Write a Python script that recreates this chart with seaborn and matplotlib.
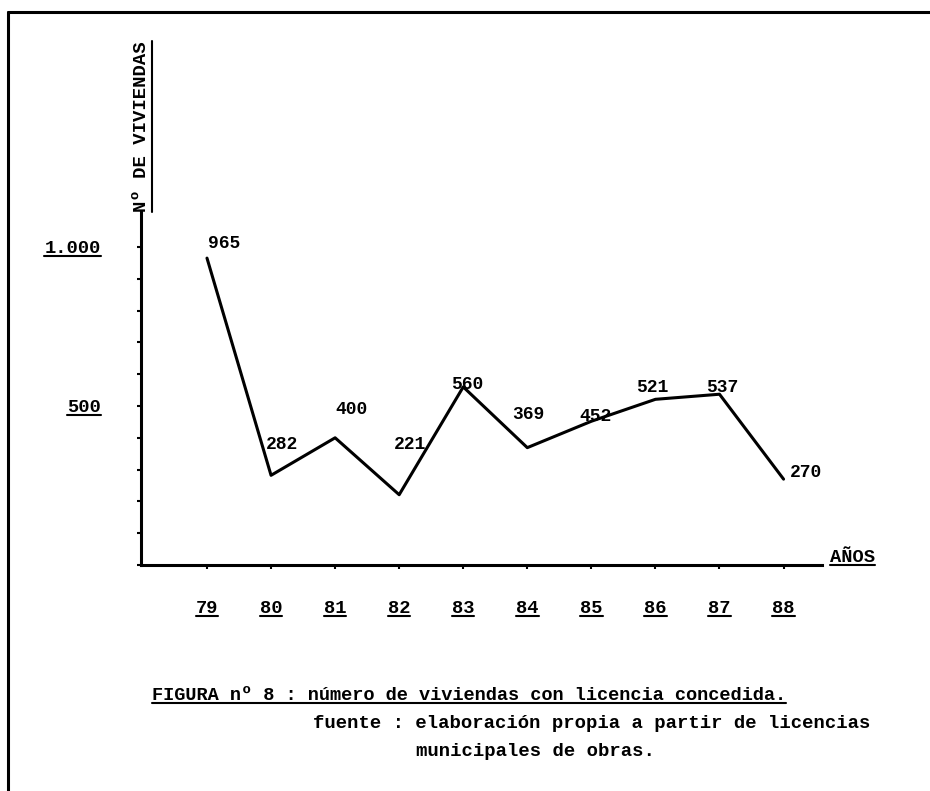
import seaborn as sns
import numpy as np
import matplotlib.pyplot as plt
from matplotlib.lines import Line2D
from matplotlib.transforms import IdentityTransform

years = [79, 80, 81, 82, 83, 84, 85, 86, 87, 88]
viviendas = [965, 282, 400, 221, 560, 369, 452, 521, 537, 270]
year_labels = ["79", "80", "81", "82", "83", "84", "85", "86", "87", "88"]
y_major = [500, 1000]
y_major_labels = ["500", "1.000"]
y_minor = list(range(0, 1100, 100))

# where each value label sits relative to its point (pixels)
label_offsets = [(17, 15), (11, 31), (16, 28), (11, 50), (4, 2),
                 (1, 33), (4, 5), (-3, 12), (3, 7), (22, 7)]

caption = "FIGURA nº 8 : número de viviendas con licencia concedida."
source1 = "fuente : elaboración propia a partir de licencias"
source2 = "municipales de obras."

sns.set_theme(style="white")
plt.rcParams['font.family'] = ['Liberation Mono', 'DejaVu Sans Mono']
plt.rcParams['font.weight'] = 'bold'
plt.rcParams['text.color'] = 'black'

W, H = 930, 791
fig = plt.figure(figsize=(W / 100, H / 100), dpi=100)
ax = fig.add_axes([141 / W, 1 - 565 / H, (822 - 141) / W, (565 - 212) / H])

sns.lineplot(x=years, y=viviendas, ax=ax, color="black", linewidth=2.2)

for x, y, (dx, dy) in zip(years, viviendas, label_offsets):
    ax.annotate(str(y), (x, y), xytext=(dx, dy), textcoords="offset pixels",
                ha="center", va="center", fontsize=13, fontweight="bold",
                color="black")

ax.set_xlim(77.97, 88.6)
ax.set_ylim(0, 1110)
sns.despine(ax=ax)
for s in ["left", "bottom"]:
    ax.spines[s].set_linewidth(2.2)
    ax.spines[s].set_color("black")

ax.set_xticks(years)
ax.set_xticklabels(year_labels)
ax.set_yticks(y_major)
ax.set_yticklabels(y_major_labels)
ax.set_yticks(y_minor, minor=True)
ax.tick_params(axis="x", direction="out", length=3, width=1.5, pad=22,
               labelsize=13.5, colors="black", bottom=True)
ax.tick_params(axis="y", which="both", direction="out", length=3, width=1.5,
               pad=26, labelsize=13.5, colors="black", left=True)
for t in ax.get_xticklabels() + ax.get_yticklabels():
    t.set_fontweight("bold")

ylab = ax.text(0.0, 1.0, "Nº DE VIVIENDAS", transform=ax.transAxes,
               rotation=90, ha="center", va="bottom", fontsize=13.6,
               fontweight="bold")
anos = ax.text(1.0 + 8 / 681, 8 / 353, "AÑOS", transform=ax.transAxes,
               ha="left", va="center", fontsize=13.5, fontweight="bold")

cap = fig.text(152 / W, 1 - 695 / H, caption, ha="left", va="center",
               fontsize=13.4, fontweight="bold")
fig.text(313 / W, 1 - 723 / H, source1, ha="left", va="center",
         fontsize=13.6, fontweight="bold")
fig.text(416 / W, 1 - 752 / H, source2, ha="left", va="center",
         fontsize=13.6, fontweight="bold")

# page frame (top and left edges of the scan)
fig.add_artist(Line2D([8 / W, 8 / W], [0, 1 - 12 / H], transform=fig.transFigure,
                      color="black", linewidth=2.2))
fig.add_artist(Line2D([8 / W, 1], [1 - 12 / H, 1 - 12 / H], transform=fig.transFigure,
                      color="black", linewidth=2.2))

# underlines
fig.canvas.draw()
r = fig.canvas.get_renderer()


def underline(t, vertical=False):
    bb = t.get_window_extent(r)
    if vertical:
        xs, ys = [bb.x1 + 2, bb.x1 + 2], [bb.y0, bb.y1]
    else:
        xs, ys = [bb.x0, bb.x1], [bb.y0 + 1, bb.y0 + 1]
    fig.add_artist(Line2D(xs, ys, transform=IdentityTransform(),
                          color="black", linewidth=1.5))


for t in ax.get_xticklabels() + ax.get_yticklabels() + [anos, cap]:
    underline(t)
underline(ylab, vertical=True)

fig.savefig("out.png", dpi=100)
